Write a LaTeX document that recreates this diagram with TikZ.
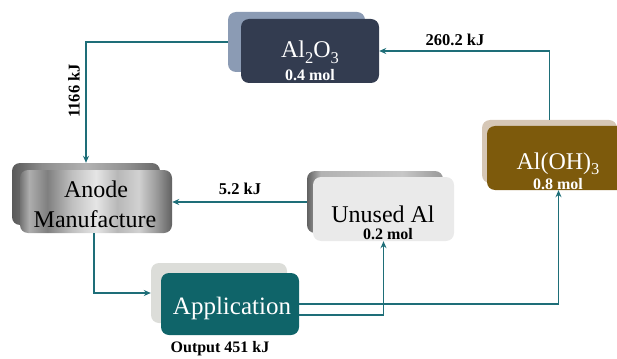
\documentclass[tikz,border=0pt]{standalone}
\usepackage{fontspec}
\setmainfont{Liberation Serif}
\usetikzlibrary{arrows.meta}
\definecolor{arrowc}{HTML}{1E6E78}
\definecolor{aloF}{HTML}{333C50}
\definecolor{aloB}{HTML}{8B9BB4}
\definecolor{ohF}{HTML}{7D5A0C}
\definecolor{ohB}{HTML}{D6C7B6}
\definecolor{appF}{HTML}{0F6469}
\definecolor{appB}{HTML}{DCDDD9}
\definecolor{unF}{HTML}{EAEAEA}
\newcommand\mysub[1]{\raisebox{-0.22em}{\fontsize{16.5}{16.5}\selectfont #1}}
\pgfdeclarehorizontalshading{metal}{100bp}{color(0bp)=(black!55); color(25bp)=(black!55); color(28bp)=(black!32); color(34bp)=(black!50); color(42bp)=(black!25); color(50bp)=(black!10); color(57bp)=(black!28); color(64bp)=(black!18); color(70bp)=(black!40); color(75bp)=(black!62); color(100bp)=(black!62)}
\pgfdeclarehorizontalshading{metalB}{100bp}{color(0bp)=(black!65); color(25bp)=(black!65); color(35bp)=(black!45); color(50bp)=(black!30); color(65bp)=(black!45); color(75bp)=(black!60); color(100bp)=(black!60)}
\pgfdeclarehorizontalshading{greyB}{100bp}{color(0bp)=(black!62); color(25bp)=(black!62); color(30bp)=(black!30); color(60bp)=(black!22); color(75bp)=(black!40); color(100bp)=(black!40)}
\tikzset{
  box/.style={rectangle, rounded corners=8pt, inner sep=0pt, draw=none},
  arr/.style={draw=arrowc, line width=1.8pt, -{Stealth[length=7pt,width=6pt]}},
  lbl/.style={font=\bfseries\fontsize{16.5}{18}\selectfont, inner sep=0pt},
  big/.style={font=\fontsize{24}{26}\selectfont, inner sep=0pt, anchor=base},
  mol/.style={font=\bfseries\fontsize{16}{18}\selectfont, inner sep=0pt, anchor=base},
}
\begin{document}
\begin{tikzpicture}[x=1pt,y=-1pt]
\useasboundingbox (0,0) rectangle (617,358);
% Al2O3
\node[box, fill=aloB, minimum width=137, minimum height=60] (aloB) at (296.5,42) {};
\node[box, fill=aloF, minimum width=138, minimum height=64] (alo) at (310,51) {};
\node[big, text=white] (aloT) at (310,58) {Al\mysub{2}O\mysub{3}};
\node[mol, text=white] (aloM) at (310,81) {0.4 mol};
% Anode
\node[box, shading=metalB, minimum width=148, minimum height=62] (anB) at (86,194) {};
\node[box, shading=metal, minimum width=152, minimum height=63] (an) at (96,201.5) {};
\node[big] (anT1) at (96,197) {Anode};
\node[big] (anT2) at (95,227) {Manufacture};
% Unused Al
\node[box, shading=greyB, minimum width=136, minimum height=62] (unB) at (375,202) {};
\node[box, fill=unF, minimum width=141, minimum height=64] (un) at (383.5,209) {};
\node[big] (unT) at (383,222) {Unused Al};
\node[mol] (unM) at (388,239) {0.2 mol};
% Al(OH)3
\node[box, fill=ohB, minimum width=135, minimum height=63] (ohB) at (549.5,151.5) {};
\node[box, fill=ohF, minimum width=143, minimum height=64] (oh) at (558.5,158) {};
\node[big, text=white] (ohT) at (558,169) {Al(OH)\mysub{3}};
\node[mol, text=white] (ohM) at (558,189) {0.8 mol};
% Application
\node[box, fill=appB, minimum width=136, minimum height=60] (apB) at (219,293) {};
\node[box, fill=appF, minimum width=138, minimum height=62] (ap) at (230,304) {};
\node[big, text=white, font=\fontsize{25}{27}\selectfont] (apT) at (232,314) {Application};
\node[lbl, font=\bfseries\fontsize{16}{18}\selectfont] (out) at (220,349) {Output 451 kJ};
% connectors
\draw[arr] (ohB.north) |- (alo.east);
\draw[arr] (aloB.west) -| (anB.north);
\draw[arr] (unB.west) -- (unB.west -| an.east);
\draw[arr] ([xshift=-2pt]an.south) |- (apB.west);
\draw[arr] ([yshift=-11pt]ap.east) -| (un.south);
\draw[arr] (ap.east) -| (oh.south);
% labels
\node[lbl, anchor=base] (l1) at (455,46) {260.2 kJ};
\node[lbl, rotate=90] (l2) at (74,91) {1166 kJ};
\node[lbl, anchor=base] (l3) at (240,194) {5.2 kJ};
\end{tikzpicture}
\end{document}
